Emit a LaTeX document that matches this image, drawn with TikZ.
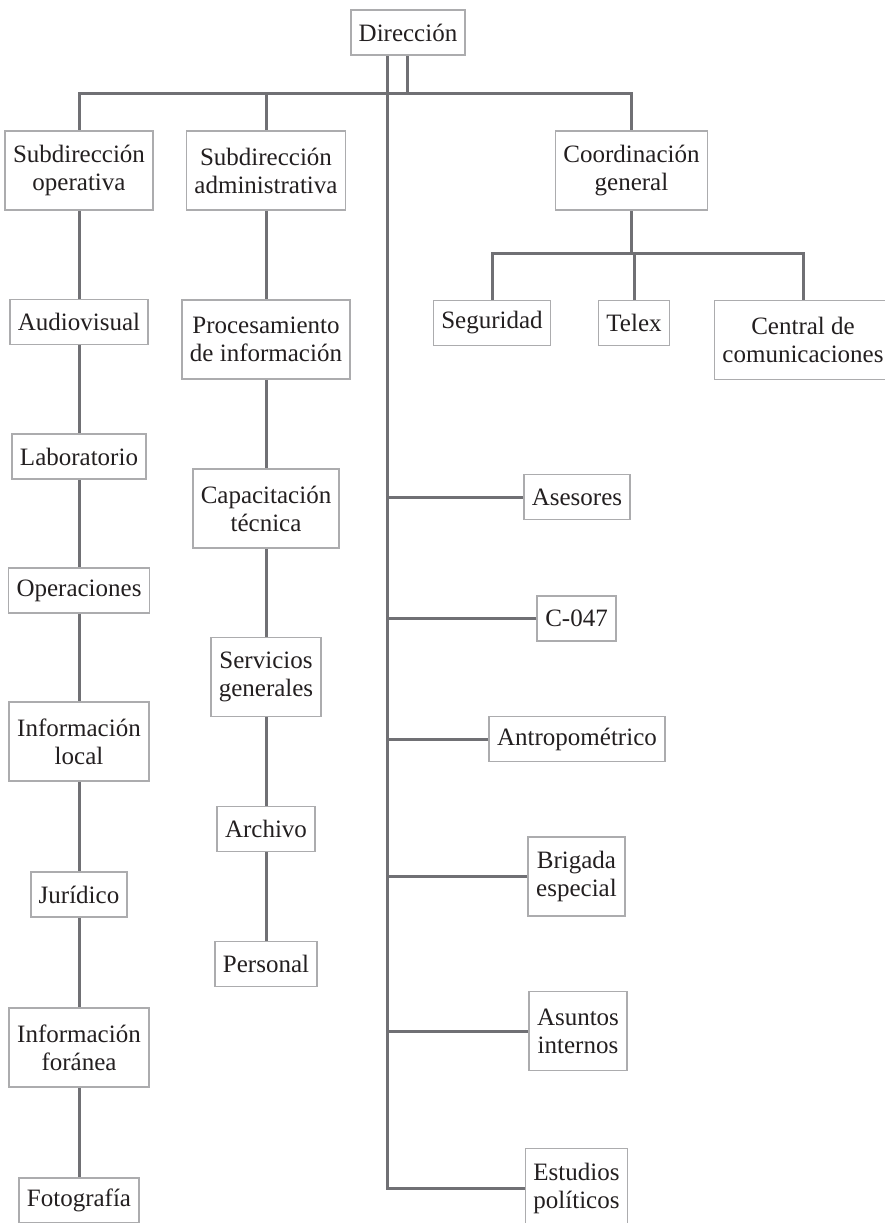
\documentclass[tikz,border=0pt]{standalone}
\usepackage{fontspec}
\setmainfont{Liberation Serif}
\usetikzlibrary{positioning}

\definecolor{linkgray}{RGB}{112,112,116}
\definecolor{framegray}{RGB}{172,172,174}
\definecolor{inkblack}{RGB}{35,31,32}

\begin{document}
\begin{tikzpicture}[
    x=0.5pt, y=-0.5pt,
    every node/.style = {font=\fontsize{12.5}{14}\selectfont, text=inkblack},
    box/.style = {
        rectangle,
        draw=framegray,
        line width=0.8pt,
        fill=white,
        align=center,
        inner xsep=4pt,
        minimum height=22.5pt
    },
    tallbox/.style = {
        box,
        minimum height=39.5pt
    },
    link/.style = {
        draw=linkgray,
        line width=1.5pt
    }
]
\useasboundingbox (0,0) rectangle (885,1223);

% top level
\node[box] (dir) at (408,32.5) {Dirección};
\node[tallbox] (subop) at (79,170.5) {Subdirección\\operativa};
\node[tallbox] (subadm) at (266,170.5) {Subdirección\\administrativa};
\node[tallbox] (coord) at (631.5,170.5) {Coordinación\\general};

% coordinacion general
\node[box] (segur) at (492,323) {Seguridad};
\node[box] (telex) at (634,323) {Telex};
\node[tallbox] (central) at (803,340) {Central de\\comunicaciones};

% subdireccion operativa
\node[box] (audio) at (79,322) {Audiovisual};
\node[box] (lab) at (79,456.5) {Laboratorio};
\node[box] (oper) at (79,590.5) {Operaciones};
\node[tallbox] (inflocal) at (79,741.5) {Información\\local};
\node[box] (jurid) at (79,894.5) {Jurídico};
\node[tallbox] (inffor) at (79,1047.5) {Información\\foránea};
\node[box] (foto) at (79,1200.5) {Fotografía};

% subdireccion administrativa
\node[tallbox] (proc) at (266,339.5) {Procesamiento\\de información};
\node[tallbox] (capac) at (266,508.5) {Capacitación\\técnica};
\node[tallbox] (servi) at (266,677) {Servicios\\generales};
\node[box] (archi) at (266,829) {Archivo};
\node[box] (perso) at (266,964) {Personal};

% staff units on the trunk
\node[box] (ases) at (577,497) {Asesores};
\node[box] (cnum) at (576.5,618.5) {C-047};
\node[box] (antro) at (577,739) {Antropométrico};
\node[tallbox] (briga) at (576.5,876.5) {Brigada\\especial};
\node[tallbox] (asunt) at (578,1031) {Asuntos\\internos};
\node[tallbox] (estud) at (576.5,1188) {Estudios\\políticos};

\coordinate (trunk) at (387,93);
\coordinate (bar) at (407,93);
\coordinate (cbar) at (631.5,253);

% connectors
\draw[link] (dir.south -| trunk) |- (estud.west);
\draw[link] (dir.south -| bar) -- (bar);
\draw[link] (subop.north) |- (bar) -| (coord.north);
\draw[link] (subadm.north) -- (subadm.north |- bar);
\draw[link] (coord) -- (cbar);
\draw[link] (segur.north) |- (cbar) -| (central.north);
\draw[link] (telex.north) -- (telex.north |- cbar);
\draw[link] (subop) -- (audio) -- (lab) -- (oper) -- (inflocal) -- (jurid) -- (inffor) -- (foto);
\draw[link] (subadm) -- (proc) -- (capac) -- (servi) -- (archi) -- (perso);
\foreach \unit in {ases,cnum,antro,briga,asunt}
    \draw[link] (\unit.west) -- (\unit.west -| trunk);

\end{tikzpicture}
\end{document}
